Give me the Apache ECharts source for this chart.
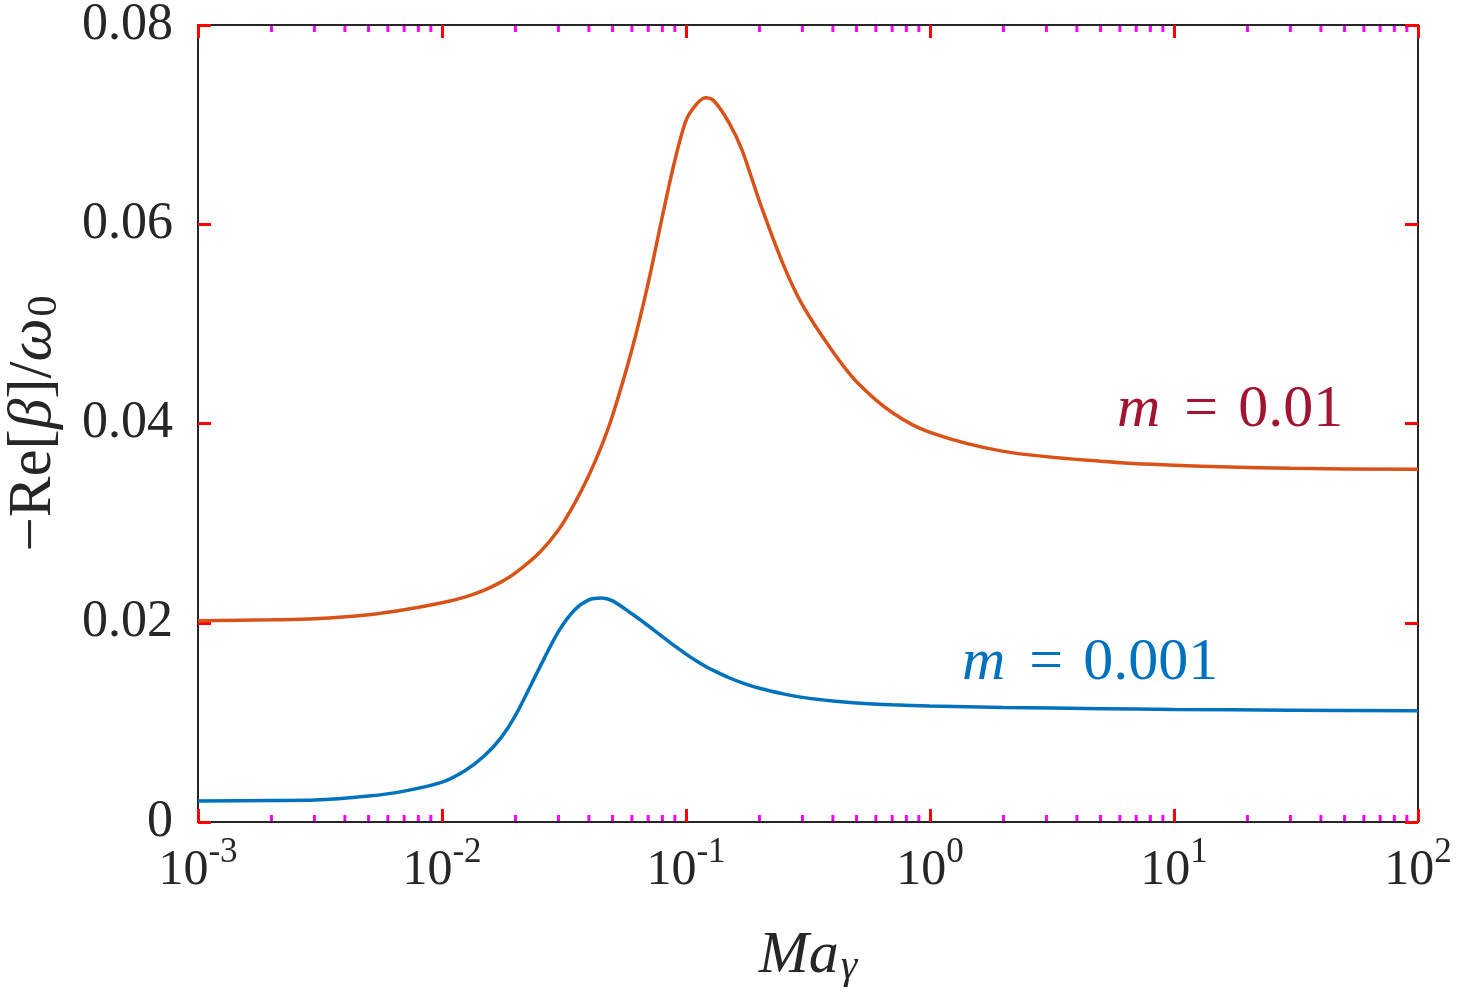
<!DOCTYPE html>
<html>
<head>
<meta charset="utf-8">
<script src="https://cdn.jsdelivr.net/npm/echarts@6/dist/echarts.min.js"></script>
<style>
  html, body { margin: 0; padding: 0; background: #fff; }
  #chart { width: 1457px; height: 998px; }
</style>
</head>
<body>
<div id="chart"></div>
<script>
// ---- data ----
const xValues = [0.001, 0.002, 0.003, 0.005, 0.007, 0.01, 0.0125, 0.015, 0.0175, 0.02, 0.025, 0.03, 0.035, 0.04, 0.045, 0.05, 0.06, 0.07, 0.08, 0.09,
                 0.1, 0.11, 0.12, 0.13, 0.15, 0.17, 0.2, 0.25, 0.3, 0.4, 0.5, 0.7, 1, 2, 5, 10, 30, 100];
const m001 = [0.0202, 0.0203, 0.0204, 0.0208, 0.0213, 0.0220, 0.0226, 0.0233, 0.0241, 0.0250, 0.0270, 0.0293, 0.0320, 0.0348, 0.0377, 0.0408, 0.0474, 0.0541, 0.0608, 0.0664,
              0.0704, 0.0720, 0.0727, 0.0724, 0.0702, 0.0674, 0.0623, 0.0560, 0.0519, 0.0472, 0.0442, 0.0411, 0.0391, 0.0372, 0.0362, 0.0358, 0.0355, 0.0354];
const m0001 = [0.00211, 0.00216, 0.0022, 0.0026, 0.0031, 0.0040, 0.0052, 0.0067, 0.0085, 0.0107, 0.0154, 0.0191, 0.0213, 0.0223, 0.02248, 0.0222, 0.0209, 0.0197, 0.0186, 0.01766,
               0.01685, 0.01619, 0.01564, 0.01519, 0.01448, 0.01397, 0.01342, 0.01286, 0.01251, 0.01214, 0.01195, 0.01177, 0.01165, 0.0115, 0.01138, 0.0113, 0.01122, 0.01116];
const xMajorTicks = [0.001, 0.01, 0.1, 1, 10, 100];
const xMajorExps = ['-3', '-2', '-1', '0', '1', '2'];
const xMinorTicks = [];
[0.001, 0.01, 0.1, 1, 10].forEach(d => { for (let k = 2; k <= 9; k++) xMinorTicks.push(+(d * k).toPrecision(3)); });
const yTicks = [0, 0.02, 0.04, 0.06, 0.08];
const yTickLabels = ['0', '0.02', '0.04', '0.06', '0.08'];
const seriesNames = ['m = 0.01', 'm = 0.001'];

const X_MIN = xMajorTicks[0], X_MAX = xMajorTicks[xMajorTicks.length - 1];
const Y_MIN = yTicks[0], Y_MAX = yTicks[yTicks.length - 1];

const FONT = "'Liberation Serif', 'Times New Roman', serif";
const INK = '#262626';
const AX = '#262626';
const TICK = 'red';

const chart = echarts.init(document.getElementById('chart'), null, { renderer: 'canvas' });

const xLabelRich = {
  b: { fontFamily: FONT, fontSize: 50, lineHeight: 50, color: INK },
  s: { fontFamily: FONT, fontSize: 35, lineHeight: 35, color: INK, padding: [0, 0, 36, 0] }
};

function majorTick() {
  return { show: true, inside: true, length: 13, lineStyle: { color: TICK, width: 3 } };
}
function axisLineStyle() {
  return { show: true, onZero: false, lineStyle: { color: AX, width: 2 } };
}

const option = {
  animation: false,
  grid: { left: 198, right: 39, top: 25, bottom: 176, outerBoundsMode: 'none' },
  xAxis: [
    {
      type: 'log', logBase: 10, min: X_MIN, max: X_MAX, position: 'bottom',
      splitLine: { show: false }, axisLine: axisLineStyle(), axisTick: majorTick(),
      name: '{i|Ma}{sub|γ}',
      nameLocation: 'middle', nameGap: 104,
      nameTextStyle: {
        rich: {
          i: { fontFamily: FONT, fontStyle: 'italic', fontSize: 60, lineHeight: 60, color: INK },
          sub: { fontFamily: FONT, fontStyle: 'italic', fontSize: 42, lineHeight: 42, color: INK, padding: [22, 0, 0, 2] }
        }
      },
      axisLabel: {
        show: true, margin: 24,
        formatter: function (v) {
          let idx = 0, best = Infinity;
          xMajorTicks.forEach((t, i) => { const d = Math.abs(Math.log10(t) - Math.log10(v)); if (d < best) { best = d; idx = i; } });
          return '{b|10}{s|' + xMajorExps[idx] + '}';
        },
        rich: xLabelRich
      }
    },
    {
      type: 'log', logBase: 10, min: X_MIN, max: X_MAX, position: 'top',
      splitLine: { show: false }, axisLine: axisLineStyle(), axisTick: majorTick(), axisLabel: { show: false }
    }
  ],
  yAxis: [
    {
      type: 'value', position: 'left', min: Y_MIN, max: Y_MAX, interval: 0.02,
      splitLine: { show: false }, axisLine: axisLineStyle(), axisTick: majorTick(),
      axisLabel: {
        show: true, margin: 25, color: INK, fontFamily: FONT, fontSize: 52,
        formatter: function (v) {
          const i = yTicks.findIndex(t => Math.abs(t - v) < 1e-9);
          return i >= 0 ? yTickLabels[i] : '';
        }
      },
      name: '{n|−Re[}{i|β}{n|]/}{i|ω}{sub|0}',
      nameLocation: 'middle', nameRotate: 90, nameGap: 134,
      nameTextStyle: {
        rich: {
          n: { fontFamily: FONT, fontSize: 61, lineHeight: 61, color: INK },
          i: { fontFamily: FONT, fontStyle: 'italic', fontSize: 61, lineHeight: 61, color: INK },
          sub: { fontFamily: FONT, fontSize: 42, lineHeight: 42, color: INK, padding: [22, 0, 0, 2] }
        }
      }
    },
    {
      type: 'value', position: 'right', min: Y_MIN, max: Y_MAX, interval: 0.02,
      splitLine: { show: false }, axisLine: axisLineStyle(), axisTick: majorTick(), axisLabel: { show: false }
    }
  ],
  series: [
    {
      name: seriesNames[0], type: 'line', xAxisIndex: 0, yAxisIndex: 0,
      data: xValues.map((x, i) => [x, m001[i]]),
      showSymbol: false, smooth: 0.3,
      lineStyle: { color: '#D95319', width: 3.5 },
      itemStyle: { color: '#D95319' }
    },
    {
      name: seriesNames[1], type: 'line', xAxisIndex: 0, yAxisIndex: 0,
      data: xValues.map((x, i) => [x, m0001[i]]),
      showSymbol: false, smooth: 0.3,
      lineStyle: { color: '#0072BD', width: 3.5 },
      itemStyle: { color: '#0072BD' }
    }
  ]
};

chart.setOption(option);

const graphics = [
  {
    type: 'text', left: 1117, top: 380,
    style: {
      text: '{i|m}{n|=}{d|0.01}',
      rich: {
        i: { fontFamily: FONT, fontStyle: 'italic', fontSize: 60, fill: '#A2142F', padding: [0, 6, 0, 0] },
        n: { fontFamily: FONT, fontSize: 60, fill: '#A2142F', padding: [0, 20, 0, 18] },
        d: { fontFamily: FONT, fontSize: 60, fill: '#A2142F' }
      }
    }
  },
  {
    type: 'text', left: 962, top: 633,
    style: {
      text: '{i|m}{n|=}{d|0.001}',
      rich: {
        i: { fontFamily: FONT, fontStyle: 'italic', fontSize: 60, fill: '#0072BD', padding: [0, 6, 0, 0] },
        n: { fontFamily: FONT, fontSize: 60, fill: '#0072BD', padding: [0, 20, 0, 18] },
        d: { fontFamily: FONT, fontSize: 60, fill: '#0072BD' }
      }
    }
  }
];
const yBottom = chart.convertToPixel({ yAxisIndex: 0 }, Y_MIN);
const yTop = chart.convertToPixel({ yAxisIndex: 0 }, Y_MAX);
xMinorTicks.forEach(v => {
  const px = chart.convertToPixel({ xAxisIndex: 0 }, v);
  graphics.push({ type: 'line', silent: true, shape: { x1: px, y1: yBottom, x2: px, y2: yBottom - 7 }, style: { stroke: 'magenta', lineWidth: 3 } });
  graphics.push({ type: 'line', silent: true, shape: { x1: px, y1: yTop, x2: px, y2: yTop + 7 }, style: { stroke: 'magenta', lineWidth: 3 } });
});
chart.setOption({ graphic: graphics });
</script>
</body>
</html>
